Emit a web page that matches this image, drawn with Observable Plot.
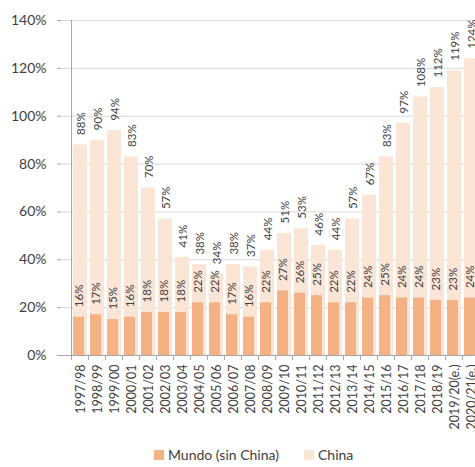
<!DOCTYPE html>
<html>
<head>
<meta charset="utf-8">
<script src="https://cdn.jsdelivr.net/npm/d3@7"></script>
<script src="https://cdn.jsdelivr.net/npm/@observablehq/plot@0.6"></script>
<style>
  html, body { margin: 0; padding: 0; background: #fff; overflow: hidden; width: 475px; height: 467px; }
  #chart { position: absolute; left: 0; top: 0; width: 500px; }
  #chart svg { max-width: none !important; width: 500px; height: 440px; }
  #legend { position: absolute; left: 0; top: 446px; width: 500px; font-family: Lato, "Liberation Sans", sans-serif; font-size: 14px; color: #404040; }
  .item { position: absolute; top: 0; display: flex; align-items: center; }
  .sw { width: 10px; height: 10px; margin-right: 4px; display: inline-block; }
</style>
</head>
<body>
<div id="chart"></div>
<div id="legend">
  <div class="item" style="left:154px"><span class="sw" style="background:#F4B183"></span>Mundo (sin China)</div>
  <div class="item" style="left:304px"><span class="sw" style="background:#FBE5D6"></span>China</div>
</div>
<script>
const campanas = ["1997/98","1998/99","1999/00","2000/01","2001/02","2002/03","2003/04","2004/05","2005/06","2006/07","2007/08","2008/09","2009/10","2010/11","2011/12","2012/13","2013/14","2014/15","2015/16","2016/17","2017/18","2018/19","2019/20(e.)","2020/21(e.)"];
const mundoSinChina = [16,17,15,16,18,18,18,22,22,17,16,22,27,26,25,22,22,24,25,24,24,23,23,24];
const china = [88,90,94,83,70,57,41,38,34,38,37,44,51,53,46,44,57,67,83,97,108,112,119,124];
const yTicks = [0,20,40,60,80,100,120,140];

const data = campanas.map((c, i) => ({cat: c, mundo: mundoSinChina[i], china: china[i]}));

const W = 500, ML = 61, MR = 9;
const step = (W - ML - MR) / campanas.length;
const font = "Lato, 'Liberation Sans', sans-serif";

const chart = Plot.plot({
  width: W,
  height: 440,
  marginLeft: ML,
  marginRight: MR,
  marginTop: 20,
  marginBottom: 85,
  style: {fontFamily: font, color: "#404040", background: "#fff", maxWidth: "none"},
  x: {domain: campanas, padding: 0.16, label: null},
  y: {domain: [0, 140], label: null},
  marks: [
    Plot.gridY(yTicks, {stroke: "#d9d9d9", strokeOpacity: 1}),
    Plot.barY(data, {x: "cat", y: "china", fill: "#FBE5D6"}),
    Plot.barY(data, {x: "cat", y: "mundo", fill: "#F4B183", insetRight: 3}),
    Plot.text(data, {x: "cat", y: "china", text: d => d.china + "%", rotate: -90, textAnchor: "start", dy: -10, dx: 1, fontSize: 11.5, fill: "#404040"}),
    Plot.text(data, {x: "cat", y: "mundo", text: d => d.mundo + "%", rotate: -90, textAnchor: "start", dy: -10, dx: -1.5, fontSize: 11.5, fill: "#404040"}),
    Plot.ruleY([0], {stroke: "#a6a6a6"}),
    Plot.ruleX([campanas[0]], {x: d => d, y1: 0, y2: 140, dx: -step / 2, stroke: "#a6a6a6"}),
    Plot.axisY({ticks: yTicks, tickFormat: d => d + "%", tickSize: 4, tickPadding: 11, fontSize: 14, stroke: "#a6a6a6", fill: "#404040"}),
    Plot.axisX({tickSize: 5, tickFormat: () => "", dx: -step / 2, stroke: "#a6a6a6"}),
    Plot.axisX({tickSize: 0, tickRotate: -90, tickPadding: 9, fontSize: 12.5, fill: "#404040"})
  ]
});
document.getElementById("chart").append(chart);
</script>
</body>
</html>
